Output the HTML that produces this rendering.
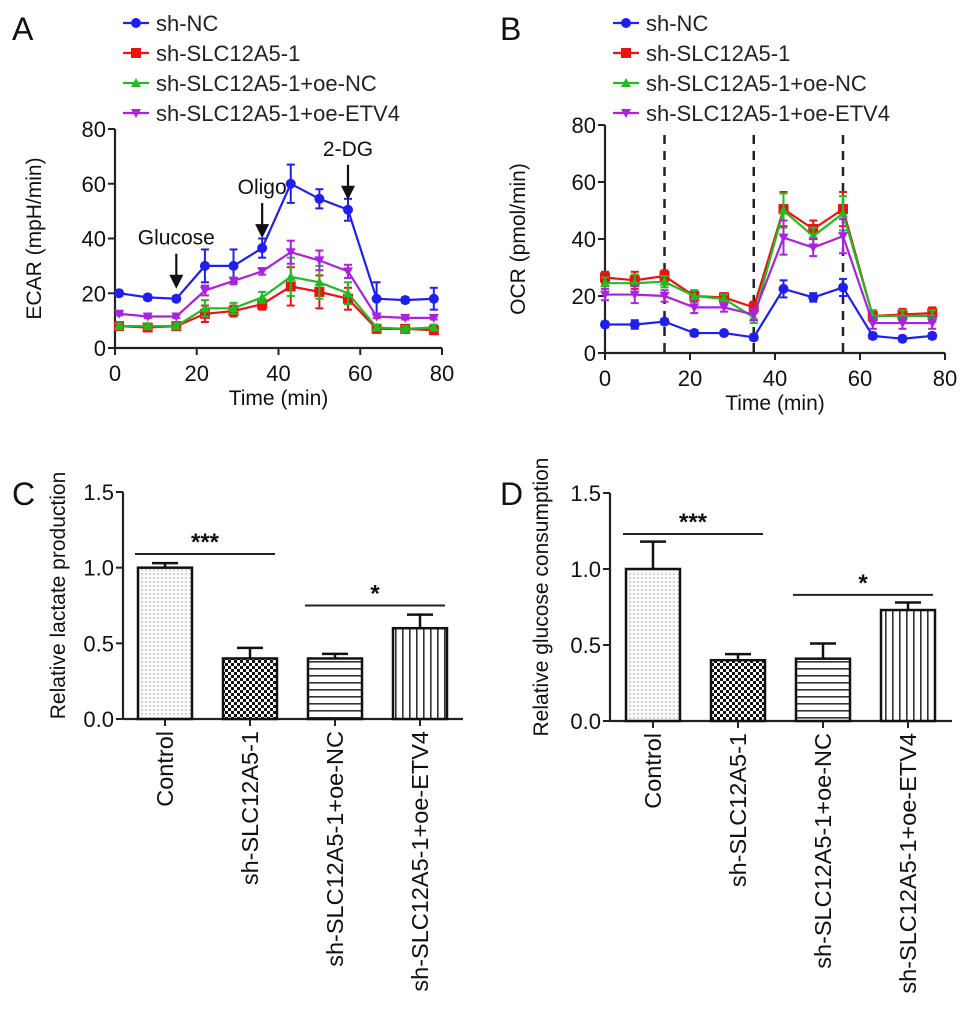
<!DOCTYPE html>
<html><head><meta charset="utf-8"><style>
body{margin:0;background:#fff}
svg{display:block;font-family:"Liberation Sans",Arial,sans-serif}
</style></head><body>
<svg id="s" width="969" height="1014" viewBox="0 0 969 1014">
<defs>
<pattern id="pDots" width="4" height="4" patternUnits="userSpaceOnUse"><rect width="4" height="4" fill="#fafafa"/><circle cx="2" cy="2" r="0.7" fill="#999"/></pattern>
<pattern id="pCheck" width="6" height="6" patternUnits="userSpaceOnUse"><rect width="6" height="6" fill="#fff"/><rect width="3" height="3" fill="#111"/><rect x="3" y="3" width="3" height="3" fill="#111"/></pattern>
<pattern id="pH" width="6" height="7" patternUnits="userSpaceOnUse"><rect width="6" height="7" fill="#fff"/><rect y="3" width="6" height="1.6" fill="#333"/></pattern>
<pattern id="pV" width="7" height="6" patternUnits="userSpaceOnUse"><rect width="7" height="6" fill="#fff"/><rect x="3" width="1.6" height="6" fill="#333"/></pattern>
</defs>
</svg>
<script>
const seriesNames=["sh-NC","sh-SLC12A5-1","sh-SLC12A5-1+oe-NC","sh-SLC12A5-1+oe-ETV4"];
const seriesColors=["#2020ee","#ee1111","#22bb22","#aa22dd"];
const ecarTime=[1,8,15,22,29,36,43,50,57,64,71,78];
const ecarBlue=[20,18.5,18,30,30,36.5,60,54.5,50.5,18,17.5,18];
const ecarRed=[8,7.5,8,12.5,13.5,16,22.5,20.5,18,7,7,6.5];
const ecarGreen=[8,8,8,14.5,14.5,18.5,26,24,20,7.5,7,7.5];
const ecarPurple=[12.5,11.5,11.5,21,24.5,28,35,32,28,11.5,11,11];
const ecarErrBlue=[1,1,1,6,6,3.5,7,3.5,4,6,1,4];
const ecarErrOther=[1,1,1,3,2,2,7,6,4,1,1,1];
const ocrTime=[0,7,14,21,28,35,42,49,56,63,70,77];
const ocrBlue=[10,10,11,7,7,5.5,22.5,19.5,23,6,5,6];
const ocrRed=[26.5,25.5,27,20,19.5,16,50.5,43.5,50.5,13,13.5,14];
const ocrGreen=[24.5,24.5,25,20,19,12.5,50,41,49,13,13,13];
const ocrPurple=[20.5,20.5,20,16,16,13.5,40.5,37,41,10.5,10.5,10.5];
const ocrErr=[2,3,2,2,1.5,2,6,3,6,2,2,2];
const ocrDashes=[14,35,56];
const xTicks=[0,20,40,60,80];
const yTicks=[0,20,40,60,80];
const barCats=["Control","sh-SLC12A5-1","sh-SLC12A5-1+oe-NC","sh-SLC12A5-1+oe-ETV4"];
const lactate=[1.0,0.4,0.4,0.6];
const lactateErr=[0.03,0.07,0.03,0.09];
const glucose=[1.0,0.4,0.41,0.73];
const glucoseErr=[0.18,0.04,0.1,0.05];
const barTicks=[0,0.5,1.0,1.5];
const barTickLabels=["0.0","0.5","1.0","1.5"];
const fills=["url(#pDots)","url(#pCheck)","url(#pH)","url(#pV)"];

const S=document.getElementById('s');const NS="http://www.w3.org/2000/svg";
function el(t,a,p){const e=document.createElementNS(NS,t);for(const k in a)e.setAttribute(k,a[k]);(p||S).appendChild(e);return e;}
function txt(x,y,s,size,anchor,extra){const e=el('text',Object.assign({x:x,y:y,'font-size':size,'text-anchor':anchor||'start',fill:'#111'},extra||{}));e.textContent=s;return e;}

function linePanel(o){
  const g=el('g',{});
  
  
  const X=v=>o.x0+(v/80)*(o.x1-o.x0), Y=v=>o.y0-(v/80)*(o.y0-o.y1);
  el('line',{x1:o.x0,y1:o.y1,x2:o.x0,y2:o.y0,stroke:'#222','stroke-width':2.2},g);
  el('line',{x1:o.x0,y1:o.y0,x2:o.x1,y2:o.y0,stroke:'#222','stroke-width':2.2},g);
  yTicks.forEach(v=>{el('line',{x1:o.x0-7,x2:o.x0,y1:Y(v),y2:Y(v),stroke:'#222','stroke-width':2},g);const t=txt(o.x0-9,Y(v)+8,String(v),22,'end');});
  xTicks.forEach(v=>{el('line',{x1:X(v),x2:X(v),y1:o.y0,y2:o.y0+7,stroke:'#222','stroke-width':2},g);const t=txt(X(v),o.y0+33,String(v),22,'middle');});
  const xt=txt((o.x0+o.x1)/2,o.y0+57,'Time (min)',21,'middle');
  const yt=txt(0,0,o.ytitle,21,'middle',{transform:`translate(${o.x0-o.yoff},${(o.y0+o.y1)/2}) rotate(-90)`});
  (o.dashes||[]).forEach(d=>{const l=el('line',{x1:X(d),x2:X(d),y1:o.y1+10,y2:o.y0,stroke:'#222','stroke-width':2.5,'stroke-dasharray':'9,7'},g);});
  o.series.forEach((s,i)=>{
    const sg=el('g',{},g);
    
    
    const c=seriesColors[i];
    s.forEach((v,j)=>{const e=o.errs[i][j];el('line',{x1:X(o.t[j]),x2:X(o.t[j]),y1:Y(v-e),y2:Y(v+e),stroke:c,'stroke-width':2},sg);
      [v-e,v+e].forEach(w=>el('line',{x1:X(o.t[j])-4,x2:X(o.t[j])+4,y1:Y(w),y2:Y(w),stroke:c,'stroke-width':2},sg));});
    el('polyline',{points:s.map((v,j)=>X(o.t[j])+','+Y(v)).join(' '),fill:'none',stroke:c,'stroke-width':2.2},sg);
    s.forEach((v,j)=>{const m=marker(X(o.t[j]),Y(v),i,sg);});
  });
  seriesNames.forEach((n,i)=>{const y=o.ly+i*30;const lg=el('g',{},g);
    el('line',{x1:o.lx,x2:o.lx+26,y1:y,y2:y,stroke:seriesColors[i],'stroke-width':2.2},lg);marker(o.lx+13,y,i,lg);
    txt(o.lx+33,y+8,n,22,'start',{fill:'#222'});});
}
function marker(x,y,i,p){const c=seriesColors[i];
  if(i==0)return el('circle',{cx:x,cy:y,r:5,fill:c},p);
  if(i==1)return el('rect',{x:x-5,y:y-5,width:10,height:10,fill:c},p);
  if(i==2)return el('polygon',{points:`${x},${y-5} ${x+5},${y+4} ${x-5},${y+4}`,fill:c},p);
  return el('polygon',{points:`${x},${y+5} ${x+5},${y-4} ${x-5},${y-4}`,fill:c},p);}

linePanel({name:'ecar-chart',x0:115,x1:442,y0:348,y1:129,t:ecarTime,series:[ecarBlue,ecarRed,ecarGreen,ecarPurple],errs:[ecarErrBlue,ecarErrOther,ecarErrOther,ecarErrOther.map(v=>v*0.6)],ytitle:'ECAR (mpH/min)',yoff:74,lx:123,ly:23});
linePanel({name:'ocr-chart',x0:605,x1:945,y0:353,y1:125,t:ocrTime,series:[ocrBlue,ocrRed,ocrGreen,ocrPurple],errs:[ocrErr.map(v=>v*0.5),ocrErr,ocrErr,ocrErr],ytitle:'OCR (pmol/min)',yoff:80,lx:613,ly:23,dashes:ocrDashes});

const XA=v=>115+(v/80)*327, YA=v=>348-(v/80)*219;
[["Glucose",15,30,18],["Oligo",36,47,36.5],["2-DG",57,60,50.5]].forEach(a=>{
  const g=el('g',{});
  const yb=YA(a[3])-10;el('line',{x1:XA(a[1]),x2:XA(a[1]),y1:yb-35,y2:yb-6,stroke:'#111','stroke-width':2.2},g);
  el('polygon',{points:`${XA(a[1])-7},${yb-14} ${XA(a[1])+7},${yb-14} ${XA(a[1])},${yb}`,fill:'#111'},g);
  const t=txt(XA(a[1]),yb-44,a[0],21,'middle');g.appendChild(t);});

function barPanel(o){
  const g=el('g',{});
  const Y=v=>o.y0-(v/1.5)*(o.y0-o.y1);
  el('line',{x1:o.ax,x2:o.ax,y1:o.y1,y2:o.y0,stroke:'#222','stroke-width':2.2},g);
  el('line',{x1:o.ax,x2:o.xe,y1:o.y0,y2:o.y0,stroke:'#222','stroke-width':2.2},g);
  barTicks.forEach((v,i)=>{el('line',{x1:o.ax-7,x2:o.ax,y1:Y(v),y2:Y(v),stroke:'#222','stroke-width':2},g);const t=txt(o.ax-9,Y(v)+8,barTickLabels[i],22,'end');});
  const yt=txt(0,0,o.ytitle,21,'middle',{transform:`translate(${o.ax-o.yoff},${(o.y0+o.y1)/2-10}) rotate(-90)`});
  o.vals.forEach((v,i)=>{const cx=o.c0+i*o.step,w=54;
    const b=el('rect',{x:cx-w/2,y:Y(v),width:w,height:Y(0)-Y(v),fill:fills[i],stroke:'#111','stroke-width':2.5},g);
    
    
    const e=o.errs[i];el('line',{x1:cx,x2:cx,y1:Y(v),y2:Y(v+e),stroke:'#111','stroke-width':2.5},g);
    el('line',{x1:cx-13,x2:cx+13,y1:Y(v+e),y2:Y(v+e),stroke:'#111','stroke-width':2.5},g);
    el('line',{x1:cx,x2:cx,y1:o.y0,y2:o.y0+7,stroke:'#222','stroke-width':2},g);
    const t=txt(0,0,barCats[i],23.5,'end',{transform:`translate(${cx+8},${o.y0+12}) rotate(-90)`});});
  o.sig.forEach(s=>{const x1=o.c0+s[0]*o.step-30,x2=o.c0+s[1]*o.step+25;const sg=el('g',{},g);
    el('line',{x1:x1,x2:x2,y1:Y(s[2]),y2:Y(s[2]),stroke:'#222','stroke-width':2},sg);
    sg.appendChild(txt((x1+x2)/2,Y(s[2])-4,s[3],24,'middle',{'font-weight':'bold'}));});
}
barPanel({name:'lactate-chart',ax:123,xe:463,y0:719,y1:492,c0:165,step:85,vals:lactate,errs:lactateErr,ytitle:'Relative lactate production',yoff:58,sig:[[0,1,1.09,'***'],[2,3,0.75,'*']]});
barPanel({name:'glucose-chart',ax:610,xe:952,y0:721,y1:493,c0:653,step:85,vals:glucose,errs:glucoseErr,ytitle:'Relative glucose consumption',yoff:62,sig:[[0,1,1.23,'***'],[2,3,0.83,'*']]});

[["A",12,40],["B",500,40],["C",12,505],["D",500,505]].forEach(l=>{const t=txt(l[1],l[2],l[0],32,'start');});
</script>
</body></html>
